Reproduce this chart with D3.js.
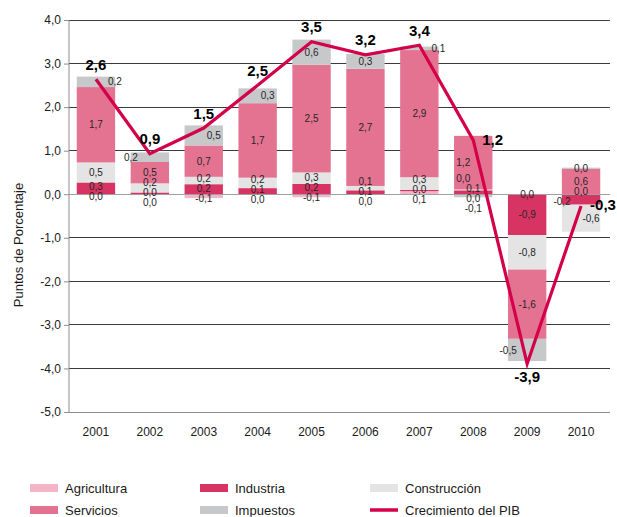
<!DOCTYPE html>
<html>
<head>
<meta charset="utf-8">
<script src="https://cdn.jsdelivr.net/npm/d3@7"></script>
<style>
  body { margin: 0; background: #fff; }
  text { font-family: 'Liberation Sans', Arial, sans-serif; }
</style>
</head>
<body>
<svg id="chart" width="617" height="517"></svg>
<script>
// contributions to GDP growth, percentage points
const years = ['2001', '2002', '2003', '2004', '2005', '2006', '2007', '2008', '2009', '2010']
const agricultura = [-0.02, -0.02, -0.09, 0.0, -0.07, 0.0, 0.07, 0.0, 0.0, 0.0]
const industria = [0.27, 0.04, 0.23, 0.14, 0.24, 0.09, 0.03, 0.09, -0.94, -0.24]
const construccion = [0.46, 0.21, 0.17, 0.24, 0.26, 0.1, 0.29, 0.02, -0.79, -0.62]
const servicios = [1.73, 0.49, 0.72, 1.71, 2.47, 2.69, 2.92, 1.23, -1.59, 0.58]
const impuestos = [0.24, 0.22, 0.46, 0.34, 0.58, 0.34, 0.08, -0.07, -0.51, 0.03]
const pib = [2.64, 0.93, 1.52, 2.5, 3.5, 3.2, 3.42, 1.24, -3.89, -0.27]
const yTicks = [-5, -4, -3, -2, -1, 0, 1, 2, 3, 4]

const series = [
  {name: 'Agricultura', values: agricultura, color: '#f2b6c8'},
  {name: 'Industria', values: industria, color: '#d73464'},
  {name: 'Construcción', values: construccion, color: '#e3e4e3'},
  {name: 'Servicios', values: servicios, color: '#e47392'},
  {name: 'Impuestos', values: impuestos, color: '#c7c8c9'}
]
const lineColor = '#d3004a'

const locale = d3.formatLocale({decimal: ',', thousands: '.', grouping: [3], currency: ['', '€'], minus: '-'})
const fmt = locale.format('.1f')

const margin = {left: 69, right: 9, top: 20, bottom: 105}
const svg = d3.select('#chart')

const x = d3.scaleBand()
  .domain(years)
  .range([margin.left, 608])
  .paddingInner(0.288)
  .paddingOuter(0.144)
const y = d3.scaleLinear()
  .domain([-5, 4])
  .range([412, 20])

// grid
svg.append('g')
  .selectAll('line')
  .data(yTicks.filter((t) => t !== 0 && t !== -5))
  .enter()
  .append('line')
  .attr('x1', margin.left)
  .attr('x2', 610)
  .attr('y1', (d) => y(d))
  .attr('y2', (d) => y(d))
  .attr('stroke', '#3a3a3a')
  .attr('stroke-width', 1)
  .attr('shape-rendering', 'crispEdges')

// stacks: positives up from zero, negatives down
const stacks = years.map((yr, i) => {
  let pos = 0
  let neg = 0
  const segs = series.map((s) => {
    const v = s.values[i]
    let y0, y1
    if (v >= 0) {
      y0 = pos
      y1 = pos + v
      pos = y1
    } else {
      y0 = neg
      y1 = neg + v
      neg = y1
    }
    return {year: yr, i: i, series: s, value: v, y0: y0, y1: y1}
  })
  return {year: yr, i: i, segs: segs, top: pos, bottom: neg}
})

svg.append('g')
  .selectAll('rect')
  .data(stacks.flatMap((s) => s.segs))
  .enter()
  .append('rect')
  .attr('x', (d) => x(d.year))
  .attr('width', x.bandwidth())
  .attr('y', (d) => y(Math.max(d.y0, d.y1)))
  .attr('height', (d) => Math.abs(y(d.y0) - y(d.y1)))
  .attr('fill', (d) => d.series.color)

// axis lines
svg.append('line')
  .attr('x1', margin.left).attr('x2', 610)
  .attr('y1', y(0)).attr('y2', y(0))
  .attr('stroke', '#a0a0a0')
  .attr('shape-rendering', 'crispEdges')
svg.append('line')
  .attr('x1', margin.left).attr('x2', 610)
  .attr('y1', y(-5)).attr('y2', y(-5))
  .attr('stroke', '#8c8c8c')
  .attr('shape-rendering', 'crispEdges')

const yAxis = d3.axisLeft(y)
  .tickValues(yTicks)
  .tickSize(5)
  .tickPadding(3)
  .tickFormat((d) => fmt(d))
const yAxisG = svg.append('g')
  .attr('transform', 'translate(' + margin.left + ',0)')
  .call(yAxis)
yAxisG.select('path.domain')
  .attr('stroke', '#8c8c8c')
  .attr('d', 'M0,' + y(4) + 'V' + y(-5))
yAxisG.selectAll('.tick line').attr('stroke', '#8c8c8c')
yAxisG.selectAll('.tick text')
  .attr('fill', '#1a1a1a')
  .attr('font-size', 12)
  .style('font-family', "'Liberation Sans', Arial, sans-serif")

svg.append('g')
  .selectAll('text')
  .data(years)
  .enter()
  .append('text')
  .attr('x', (d) => x(d) + x.bandwidth() / 2)
  .attr('y', 436)
  .attr('text-anchor', 'middle')
  .attr('font-size', 12)
  .attr('fill', '#1a1a1a')
  .text((d) => d)

svg.append('text')
  .attr('transform', 'translate(23,245) rotate(-90)')
  .attr('text-anchor', 'middle')
  .attr('font-size', 13)
  .attr('fill', '#1a1a1a')
  .text('Puntos de Porcentaje')

// GDP line
const cx = (i) => x(years[i]) + x.bandwidth() / 2
const linePts = pib.map((v, i) => [cx(i), y(v)])
svg.append('path')
  .attr('d', d3.line()(linePts))
  .attr('fill', 'none')
  .attr('stroke', lineColor)
  .attr('stroke-width', 3.2)
  .attr('stroke-linejoin', 'miter')

// GDP labels
const obstacles = []
const gdpG = svg.append('g')
pib.forEach((v, i) => {
  const st = stacks[i]
  const px = cx(i)
  const py = y(v)
  let side = 'top'
  if (v < st.bottom) side = 'bottom'
  else if (v < st.top - 0.08) side = 'right'
  const t = gdpG.append('text')
    .attr('font-size', 15)
    .attr('font-weight', 'bold')
    .attr('fill', '#000')
    .text(fmt(v))
  const w = t.node().getComputedTextLength()
  let lx, ly
  if (side === 'top') {
    lx = px - w / 2
    ly = py - 15
  } else if (side === 'bottom') {
    lx = px - w / 2
    ly = py + 13
  } else {
    lx = px + 9
    ly = py - 1
  }
  t.attr('x', lx).attr('y', ly + 5.5)
  obstacles.push({x0: lx, x1: lx + w, y0: ly - 5.5, y1: ly + 5.5})
})

// segment labels, nudged sideways where the GDP line runs through them
const hitsLine = (b) => {
  for (let k = 0; k < linePts.length - 1; k++) {
    const [ax, ay] = linePts[k]
    const [bx, by] = linePts[k + 1]
    for (let s = 0; s <= 60; s++) {
      const qx = ax + (bx - ax) * s / 60
      const qy = ay + (by - ay) * s / 60
      if (qx >= b.x0 && qx <= b.x1 && qy >= b.y0 && qy <= b.y1) return true
    }
  }
  return obstacles.some((o) => o.x0 < b.x1 && o.x1 > b.x0 && o.y0 < b.y1 && o.y1 > b.y0)
}

const crossingX = (ly, center) => {
  let best = null
  for (let k = 0; k < linePts.length - 1; k++) {
    const [ax, ay] = linePts[k]
    const [bx, by] = linePts[k + 1]
    if ((ly - ay) * (ly - by) <= 0 && ay !== by) {
      const xc = ax + (bx - ax) * (ly - ay) / (by - ay)
      if (Math.abs(xc - center) < 27 && (best === null || Math.abs(xc - center) < Math.abs(best - center))) best = xc
    }
  }
  return best
}

const segLabelG = svg.append('g')
stacks.forEach((st) => {
  const i = st.i
  const localMin = i > 0 && i < pib.length - 1 && pib[i] < pib[i - 1] && pib[i] < pib[i + 1]
  const labels = st.segs.map((d) => ({
    d: d,
    x: cx(i),
    y: y((d.y0 + d.y1) / 2)
  }))
  labels.sort((a, b) => a.y - b.y)
  for (let it = 0; it < 60; it++) {
    for (let k = 1; k < labels.length; k++) {
      const gap = labels[k].y - labels[k - 1].y
      if (gap < 10) {
        const push = (10 - gap) / 2
        labels[k].y += push
        labels[k - 1].y -= push
      }
    }
  }
  labels.forEach((l) => {
    const t = segLabelG.append('text')
      .attr('font-size', 10)
      .attr('fill', '#262626')
      .attr('text-anchor', 'middle')
      .text(fmt(l.d.value))
    const w = t.node().getComputedTextLength()
    const box = (dx) => ({x0: l.x + dx - w / 2 - 1.5, x1: l.x + dx + w / 2 + 1.5, y0: l.y - 6.5, y1: l.y + 6.5})
    let dx = 0
    if (hitsLine(box(0))) {
      let dir = localMin ? -1 : 1
      const xc = crossingX(l.y, l.x)
      if (xc !== null && Math.abs(xc - l.x) >= 4) dir = xc > l.x ? -1 : 1
      const c = [10 * dir, 19 * dir, -10 * dir, -19 * dir].find((s) => !hitsLine(box(s)))
      dx = c === undefined ? 0 : c
    }
    t.attr('x', l.x + dx).attr('y', l.y + 3.6)
  })
})

// legend
const legendItems = [
  {name: 'Agricultura', color: series[0].color, type: 'rect', col: 0, row: 0},
  {name: 'Industria', color: series[1].color, type: 'rect', col: 1, row: 0},
  {name: 'Construcción', color: series[2].color, type: 'rect', col: 2, row: 0},
  {name: 'Servicios', color: series[3].color, type: 'rect', col: 0, row: 1},
  {name: 'Impuestos', color: series[4].color, type: 'rect', col: 1, row: 1},
  {name: 'Crecimiento del PIB', color: lineColor, type: 'line', col: 2, row: 1}
]
const colX = [30, 200, 370]
const rowY = [488, 510]
const legend = svg.append('g')
  .selectAll('g')
  .data(legendItems)
  .enter()
  .append('g')
  .attr('transform', (d) => 'translate(' + colX[d.col] + ',' + rowY[d.row] + ')')
legend.filter((d) => d.type === 'rect')
  .append('rect')
  .attr('x', 0)
  .attr('y', -4)
  .attr('width', 28)
  .attr('height', 8)
  .attr('fill', (d) => d.color)
legend.filter((d) => d.type === 'line')
  .append('line')
  .attr('x1', 0)
  .attr('x2', 28)
  .attr('y1', 0)
  .attr('y2', 0)
  .attr('stroke', (d) => d.color)
  .attr('stroke-width', 3.5)
legend.append('text')
  .attr('x', 35)
  .attr('y', 5)
  .attr('font-size', 13)
  .attr('fill', '#1a1a1a')
  .text((d) => d.name)
</script>
</body>
</html>
